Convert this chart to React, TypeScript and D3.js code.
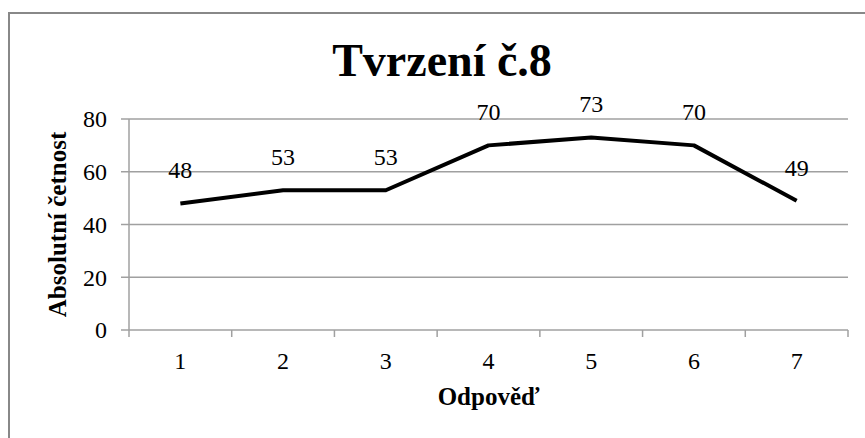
import React from "react";
import * as d3 from "d3";

const categories = ["1", "2", "3", "4", "5", "6", "7"];
const values = [48, 53, 53, 70, 73, 70, 49];
const yTicks = [0, 20, 40, 60, 80];
const title = "Tvrzení č.8";
const xTitle = "Odpověď";
const yTitle = "Absolutní četnost";

const W = 865;
const H = 438;
const font = "'Liberation Serif', 'Times New Roman', serif";

export default function App() {
  const left = 129, right = 848, top = 119, bottom = 330;
  const x = d3.scaleBand<string>().domain(categories).range([left, right]);
  const y = d3.scaleLinear().domain([0, 80]).range([bottom, top]);
  const cx = (c: string) => (x(c) as number) + x.bandwidth() / 2;
  const line = d3
    .line<number>()
    .x((_, i) => cx(categories[i]))
    .y((v) => y(v));
  const bounds = [...categories.map((c) => x(c) as number), right];

  return (
    <svg
      width={W}
      height={H}
      style={{ position: "absolute", left: 0, top: 0, background: "#fff" }}
      fontFamily={font}
    >
      <rect x={0} y={0} width={W} height={H} fill="#fff" />
      <rect x={9} y={13} width={W + 20} height={H + 20} fill="#fff" stroke="#888" strokeWidth={2} />
      <text x={442} y={76} textAnchor="middle" fontSize={46} fontWeight="bold" fill="#000">
        {title}
      </text>
      {yTicks.map((t) => (
        <g key={t}>
          {t > 0 && (
            <line x1={left} x2={right} y1={y(t)} y2={y(t)} stroke="#a0a0a0" strokeWidth={1.5} />
          )}
          <line x1={left - 8} x2={left} y1={y(t)} y2={y(t)} stroke="#a0a0a0" strokeWidth={1.5} />
          <text x={107} y={y(t)} dy="0.35em" textAnchor="end" fontSize={24} fill="#000">
            {t}
          </text>
        </g>
      ))}
      <line x1={left} x2={left} y1={top} y2={bottom} stroke="#a0a0a0" strokeWidth={1.5} />
      <line x1={left} x2={right} y1={bottom} y2={bottom} stroke="#a0a0a0" strokeWidth={1.5} />
      {bounds.map((b, i) => (
        <line key={i} x1={b} x2={b} y1={bottom} y2={bottom + 7} stroke="#a0a0a0" strokeWidth={1.5} />
      ))}
      {categories.map((c) => (
        <text key={c} x={cx(c)} y={369} textAnchor="middle" fontSize={24} fill="#000">
          {c}
        </text>
      ))}
      <path d={line(values) || ""} fill="none" stroke="#000" strokeWidth={4} strokeLinejoin="round" />
      {values.map((v, i) => (
        <text key={i} x={cx(categories[i])} y={y(v) - 25} textAnchor="middle" fontSize={24} fill="#000">
          {v}
        </text>
      ))}
      <text x={(left + right) / 2} y={405} textAnchor="middle" fontSize={25} fontWeight="bold" fill="#000">
        {xTitle}
      </text>
      <text
        transform={`translate(66, ${(top + bottom) / 2}) rotate(-90)`}
        textAnchor="middle"
        fontSize={25}
        fontWeight="bold"
        fill="#000"
      >
        {yTitle}
      </text>
    </svg>
  );
}
